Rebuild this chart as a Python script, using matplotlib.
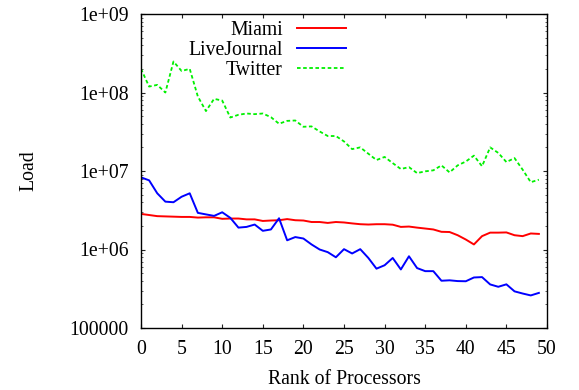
import matplotlib
matplotlib.use("Agg")
import matplotlib.pyplot as plt
from matplotlib.ticker import FixedLocator, FuncFormatter, LogLocator, NullFormatter
from matplotlib.lines import Line2D

plt.rcParams['font.family'] = ['Liberation Serif', 'DejaVu Serif']

ranks = list(range(50))

miami = [2.84e6, 2.75e6, 2.66e6, 2.64e6, 2.62e6, 2.60e6, 2.60e6, 2.55e6, 2.57e6, 2.57e6,
         2.46e6, 2.48e6, 2.48e6, 2.42e6, 2.42e6, 2.31e6, 2.34e6, 2.36e6, 2.44e6, 2.36e6,
         2.34e6, 2.24e6, 2.24e6, 2.18e6, 2.24e6, 2.21e6, 2.15e6, 2.10e6, 2.08e6, 2.10e6,
         2.10e6, 2.07e6, 1.94e6, 1.96e6, 1.90e6, 1.85e6, 1.80e6, 1.68e6, 1.67e6, 1.52e6,
         1.34e6, 1.16e6, 1.48e6, 1.64e6, 1.64e6, 1.65e6, 1.52e6, 1.48e6, 1.60e6, 1.58e6]

livejournal = [8.3e6, 7.6e6, 5.2e6, 4.07e6, 4.0e6, 4.7e6, 5.2e6, 2.93e6, 2.8e6, 2.68e6,
               2.98e6, 2.53e6, 1.9e6, 1.94e6, 2.08e6, 1.73e6, 1.8e6, 2.5e6, 1.31e6, 1.44e6,
               1.38e6, 1.16e6, 1.0e6, 9.25e5, 7.96e5, 1.01e6, 8.9e5, 1.01e6, 7.8e5, 5.7e5,
               6.3e5, 7.8e5, 5.57e5, 8.2e5, 5.8e5, 5.3e5, 5.3e5, 4.0e5, 4.05e5, 3.96e5,
               3.94e5, 4.4e5, 4.45e5, 3.59e5, 3.35e5, 3.6e5, 2.93e5, 2.75e5, 2.6e5, 2.8e5]

twitter = [2.0e8, 1.19e8, 1.25e8, 1.0e8, 2.48e8, 1.88e8, 2.0e8, 8.9e7, 5.8e7, 8.3e7,
           7.9e7, 4.8e7, 5.2e7, 5.4e7, 5.3e7, 5.4e7, 4.85e7, 4.0e7, 4.35e7, 4.4e7,
           3.66e7, 3.7e7, 3.19e7, 2.79e7, 2.79e7, 2.38e7, 1.9e7, 2.0e7, 1.66e7, 1.38e7,
           1.51e7, 1.26e7, 1.06e7, 1.12e7, 9.4e6, 9.9e6, 1.02e7, 1.18e7, 9.6e6, 1.18e7,
           1.32e7, 1.57e7, 1.15e7, 2.0e7, 1.7e7, 1.3e7, 1.46e7, 1.04e7, 7.2e6, 7.75e6]

series_names = ['Miami', 'LiveJournal', 'Twitter']
x_ticks = [0, 5, 10, 15, 20, 25, 30, 35, 40, 45, 50]
y_ticks = [1e5, 1e6, 1e7, 1e8, 1e9]

FS = 14.2
fig = plt.figure(figsize=(5.79, 3.90), dpi=100)
ax = fig.add_axes([141/579, 1-328/390, 406/579, 314/390])

styles = [dict(color='#ff0000', lw=1.4, ls='-'),
          dict(color='#0000ff', lw=1.4, ls='-'),
          dict(color='#00f000', lw=1.3, ls=(0, (2.0, 1.4)))]

for vals, st in zip([miami, livejournal, twitter], styles):
    ax.plot(ranks, vals, **st)

ax.set_yscale('log')
ax.set_xlim(0, 50)
ax.set_ylim(1e5, 1e9)
ax.xaxis.set_major_locator(FixedLocator(x_ticks))
ax.yaxis.set_major_locator(FixedLocator(y_ticks))
ax.yaxis.set_minor_locator(LogLocator(base=10, subs=range(2, 10), numticks=20))
ax.yaxis.set_minor_formatter(NullFormatter())
ax.yaxis.set_major_formatter(FuncFormatter(lambda v, p: '%g' % v))
ax.xaxis.set_major_formatter(FuncFormatter(lambda v, p: '%g' % v))
ax.tick_params(which='major', direction='in', length=3.2, width=0.8, top=True, right=True,
               labelsize=FS, color='#222222')
ax.tick_params(which='minor', direction='in', length=1.6, width=0.6, top=True, right=True,
               color='#444444')
ax.tick_params(axis='y', which='major', pad=9)
ax.tick_params(axis='x', which='major', pad=9)
for s in ax.spines.values():
    s.set_linewidth(1.0)

ax.set_xlabel('Rank of Processors', fontsize=FS, labelpad=7.5)
ax.set_ylabel('Load', fontsize=FS, labelpad=22)

# legend (gnuplot style: text right-aligned, sample on the right)
tx = (283 - 141) / 406
lx0 = (296.7 - 141) / 406
lx1 = (345.7 - 141) / 406
for i, (name, st) in enumerate(zip(series_names, styles)):
    ly = (328 - (28.3 + 20 * i)) / 314
    by = (328 - (35.0 + 20 * i)) / 314
    ax.text(tx, by, name, transform=ax.transAxes, ha='right', va='baseline', fontsize=FS)
    ax.add_line(Line2D([lx0, lx1], [ly, ly], transform=ax.transAxes, **st))

fig.savefig('out.png', dpi=100)
